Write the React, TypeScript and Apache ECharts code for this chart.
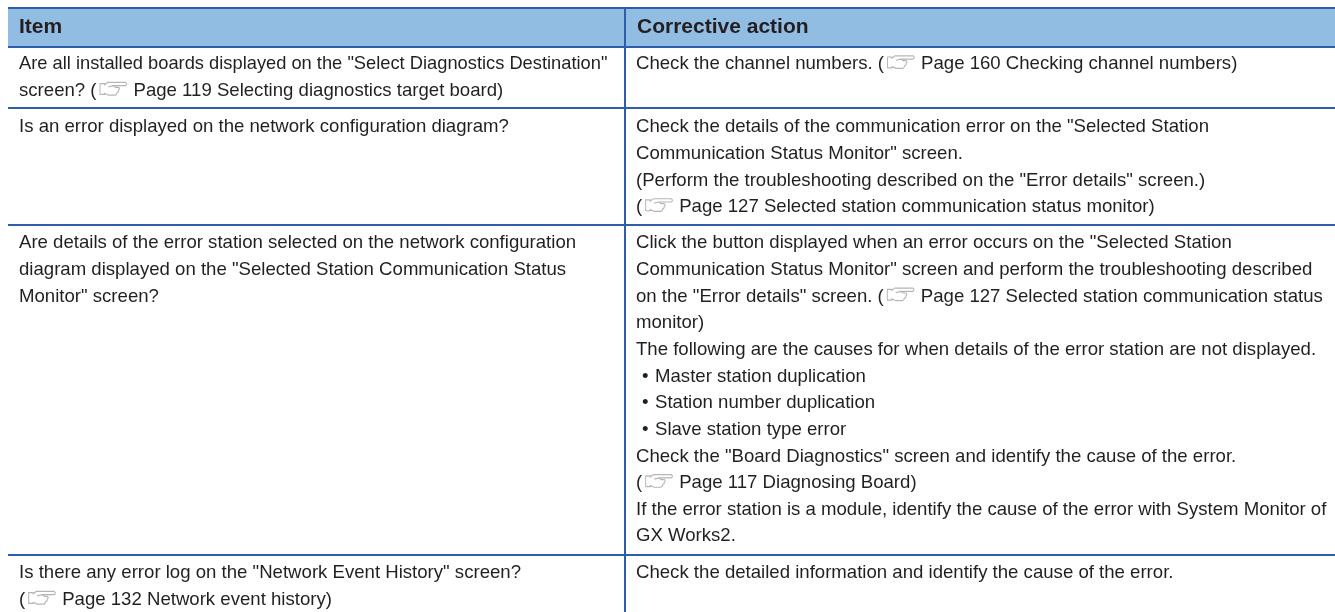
import React, { useEffect, useRef } from "react";
import * as echarts from "echarts";

const HAND = "☞";
const headers = ["Item", "Corrective action"];
const leftCells = [
  ['Are all installed boards displayed on the "Select Diagnostics Destination"', `screen? (${HAND}Page 119 Selecting diagnostics target board)`],
  ["Is an error displayed on the network configuration diagram?"],
  ["Are details of the error station selected on the network configuration", 'diagram displayed on the "Selected Station Communication Status', 'Monitor" screen?'],
  ['Is there any error log on the "Network Event History" screen?', `(${HAND}Page 132 Network event history)`],
];
const rightCells = [
  [`Check the channel numbers. (${HAND}Page 160 Checking channel numbers)`],
  ['Check the details of the communication error on the "Selected Station', 'Communication Status Monitor" screen.', '(Perform the troubleshooting described on the "Error details" screen.)', `(${HAND}Page 127 Selected station communication status monitor)`],
  ['Click the button displayed when an error occurs on the "Selected Station', 'Communication Status Monitor" screen and perform the troubleshooting described', `on the "Error details" screen. (${HAND}Page 127 Selected station communication status`, "monitor)", "The following are the causes for when details of the error station are not displayed.", " •Master station duplication", " •Station number duplication", " •Slave station type error", 'Check the "Board Diagnostics" screen and identify the cause of the error.', `(${HAND}Page 117 Diagnosing Board)`, "If the error station is a module, identify the cause of the error with System Monitor of", "GX Works2."],
  ["Check the detailed information and identify the cause of the error."],
];
const rowLines = [8, 47, 108, 225, 555];
const firstBaselines = [69.5, 132.5, 248.5, 578.5];
const tightLine = leftCells[0][0];

const handPath = "M0.5 2.5 L5 2.5 L5 3.5 L8 1.5 L26 1.5 Q28.5 2.7 26 4.2 L14 4.2 L16 5.6 L19 5.6 Q21 6.6 19 7.8 Q19.5 9.4 17.6 9.8 Q17.4 11.6 15.5 12 L9 12 L5 10.5 L5 11.5 L0.5 11.5 Z M14 4.2 L9 5.2";
echarts.graphic.registerShape("hand", (echarts.graphic as any).extendPath(handPath, {}));

const FONT = "Liberation Sans, Arial, sans-serif";
const SIZE = 18.6;
const HEAD_SIZE = 21;
const LINE = 26.65;
const INK = "#231f20";
const BLUE = "#2d5dab";
const HEAD = "#92bde3";
const X0 = 8, XD = 625, XR = 1335, TL = 19, TR = 636;
const BASE_SHIFT = 0.153;

function measure(t: string) {
  const c = document.createElement("canvas").getContext("2d")!;
  c.font = `${SIZE}px "Liberation Sans"`;
  return c.measureText(t).width;
}

function textEl(t: string, x: number, base: number, size = SIZE, bold = false, scaleX = 1) {
  return {
    type: "text", x, y: base + BASE_SHIFT * size, scaleX, silent: true,
    style: { text: t, x: 0, y: 0, fill: INK, verticalAlign: "bottom", font: `${bold ? "bold " : ""}${size}px ${FONT}` },
  };
}

function lineEls(s: string, x: number, base: number) {
  const out: any[] = [];
  const parts = s.split(HAND);
  out.push(textEl(parts[0], x, base, SIZE, false, s === tightLine ? 0.984 : 1));
  if (parts.length > 1) {
    const w = measure(parts[0]);
    out.push({ type: "hand", x: x + w + 3, y: base - 15.5, scaleY: 1.2, silent: true, style: { fill: "none", stroke: "#b3b5b8", lineWidth: 1 } });
    out.push(textEl(parts[1], x + w + 37, base));
  }
  return out;
}

export default function App() {
  const ref = useRef<HTMLDivElement>(null);
  useEffect(() => {
    document.body.style.margin = "0";
    const chart = echarts.init(ref.current!, null, { renderer: "svg" });
    const els: any[] = [];
    els.push({ type: "rect", shape: { x: X0, y: rowLines[0], width: XR - X0, height: rowLines[1] - rowLines[0] }, style: { fill: HEAD }, silent: true });
    rowLines.forEach((y) => {
      els.push({ type: "line", shape: { x1: X0, y1: y, x2: XR, y2: y }, style: { stroke: BLUE, lineWidth: 2 }, silent: true });
    });
    els.push({ type: "line", shape: { x1: XD, y1: rowLines[0], x2: XD, y2: 612 }, style: { stroke: BLUE, lineWidth: 2 }, silent: true });
    els.push(textEl(headers[0], TL, 33, HEAD_SIZE, true));
    els.push(textEl(headers[1], TR + 1, 33, HEAD_SIZE, true));
    leftCells.forEach((cell, r) => cell.forEach((s, i) => els.push(...lineEls(s, TL, firstBaselines[r] + i * LINE))));
    rightCells.forEach((cell, r) => cell.forEach((s, i) => {
      const m = s.match(/^ •(.*)$/);
      const base = firstBaselines[r] + i * LINE;
      if (m) {
        els.push(textEl("•", TR + 6, base));
        els.push(textEl(m[1], TR + 19, base));
      } else {
        els.push(...lineEls(s, TR, base));
      }
    }));
    chart.setOption({ animation: false, backgroundColor: "#fff", graphic: { elements: els } });
    return () => chart.dispose();
  }, []);
  return <div ref={ref} style={{ width: 1335, height: 612, filter: "blur(0.3px)" }} />;
}
